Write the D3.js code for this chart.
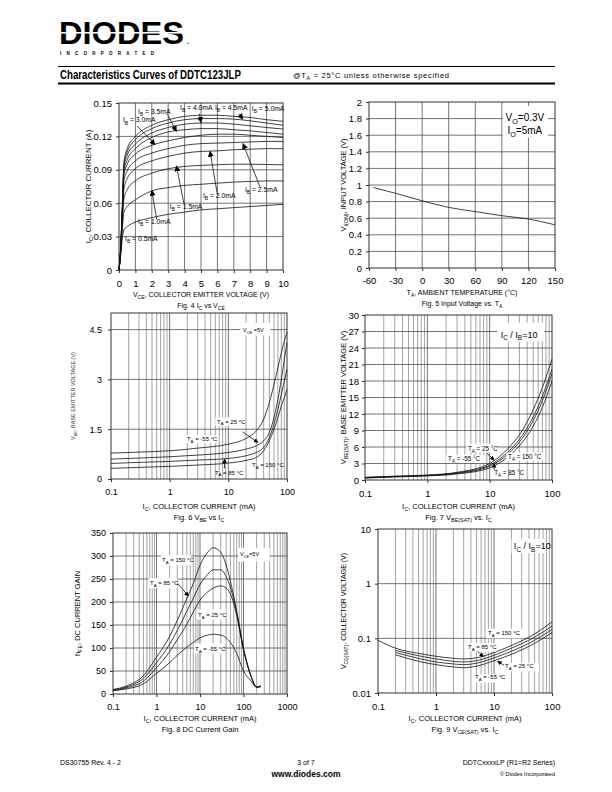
<!DOCTYPE html>
<html>
<head>
<meta charset="utf-8">
<script src="https://cdn.jsdelivr.net/npm/d3@7/dist/d3.min.js"></script>
<style>
  body { margin: 0; background: #fff; }
  svg { display: block; }
</style>
</head>
<body>
<svg id="page" width="612" height="792"></svg>
<script>
// ---------------------------//
//            DATA            //
// ---------------------------//

// Fig. 4  I_C (A) vs V_CE (V), one curve per base current
const vceSteps = [0, 0.1, 0.2, 0.3, 0.5, 1, 2, 3, 4, 5, 6, 7, 8, 9, 10];
const ibNames  = ["0.5", "1.0", "1.5", "2.0", "2.5", "3.0", "3.5", "4.0", "4.5", "5.0"];
const icIb05 = [0, 0.013, 0.028, 0.036, 0.039, 0.043, 0.047, 0.050, 0.052, 0.054, 0.055, 0.056, 0.057, 0.058, 0.059];
const icIb10 = [0, 0.015, 0.036, 0.052, 0.057, 0.063, 0.071, 0.074, 0.076, 0.077, 0.078, 0.079, 0.0795, 0.080, 0.080];
const icIb15 = [0, 0.016, 0.042, 0.064, 0.072, 0.080, 0.087, 0.091, 0.093, 0.094, 0.0945, 0.095, 0.095, 0.0948, 0.0945];
const icIb20 = [0, 0.017, 0.046, 0.073, 0.082, 0.091, 0.098, 0.102, 0.105, 0.1065, 0.107, 0.108, 0.1085, 0.109, 0.109];
const icIb25 = [0, 0.018, 0.049, 0.080, 0.089, 0.098, 0.105, 0.109, 0.112, 0.1135, 0.114, 0.1145, 0.115, 0.1155, 0.1155];
const icIb30 = [0, 0.018, 0.051, 0.085, 0.095, 0.104, 0.112, 0.116, 0.119, 0.121, 0.122, 0.122, 0.121, 0.120, 0.119];
const icIb35 = [0, 0.019, 0.053, 0.089, 0.099, 0.109, 0.119, 0.124, 0.126, 0.127, 0.127, 0.126, 0.125, 0.1235, 0.122];
const icIb40 = [0, 0.019, 0.054, 0.092, 0.103, 0.113, 0.123, 0.128, 0.131, 0.132, 0.132, 0.131, 0.1295, 0.128, 0.1266];
const icIb45 = [0, 0.019, 0.055, 0.094, 0.106, 0.117, 0.127, 0.132, 0.135, 0.136, 0.136, 0.1355, 0.134, 0.132, 0.130];
const icIb50 = [0, 0.020, 0.056, 0.096, 0.109, 0.120, 0.130, 0.135, 0.138, 0.139, 0.139, 0.138, 0.137, 0.135, 0.1335];
const icCurves = [icIb05, icIb10, icIb15, icIb20, icIb25, icIb30, icIb35, icIb40, icIb45, icIb50];
const fig4XTicks = [0, 1, 2, 3, 4, 5, 6, 7, 8, 9, 10];
const fig4YTicks = [0, 0.03, 0.06, 0.09, 0.12, 0.15];

// Fig. 5  V_I(ON) vs T_A
const tempA  = [-55, -30, 0, 30, 60, 90, 120, 150];
const vinOn  = [0.97, 0.90, 0.81, 0.73, 0.68, 0.63, 0.59, 0.52];
const fig5XTicks = [-60, -30, 0, 30, 60, 90, 120, 150];
const fig5YTicks = [0, 0.2, 0.4, 0.6, 0.8, 1, 1.2, 1.4, 1.6, 1.8, 2];

// Fig. 6  V_BE vs I_C (mA)
const icFig6 = [0.1, 0.3, 1, 3, 10, 20, 30, 40, 50, 60, 70, 80, 90, 100];
const vbeM55 = [0.78, 0.81, 0.85, 0.93, 1.05, 1.22, 1.45, 1.8, 2.3, 2.85, 3.35, 3.8, 4.15, 4.42];
const vbe25  = [0.60, 0.63, 0.67, 0.72, 0.80, 0.90, 1.0, 1.15, 1.4, 1.85, 2.4, 3.0, 3.6, 4.1];
const vbe85  = [0.47, 0.50, 0.53, 0.57, 0.62, 0.70, 0.80, 0.95, 1.25, 1.65, 2.1, 2.55, 2.95, 3.3];
const vbe150 = [0.32, 0.35, 0.38, 0.42, 0.48, 0.56, 0.65, 0.85, 1.15, 1.5, 1.85, 2.2, 2.45, 2.7];
const fig6XTicks = [0.1, 1, 10, 100];
const fig6YTicks = [0, 1.5, 3, 4.5];

// Fig. 7  V_BE(SAT) vs I_C (mA)
const icFig7 = [0.1, 0.3, 1, 3, 10, 20, 30, 50, 70, 100];
const vbsM55 = [0.50, 0.70, 0.90, 1.4, 3.0, 5.8, 8.2, 12.8, 16.8, 22.0];
const vbs25  = [0.45, 0.65, 0.85, 1.3, 2.7, 5.2, 7.4, 11.5, 15.2, 20.2];
const vbs85  = [0.40, 0.60, 0.80, 1.2, 2.5, 4.8, 6.9, 10.8, 14.4, 19.4];
const vbs150 = [0.35, 0.55, 0.75, 1.1, 2.2, 4.3, 6.2, 9.8, 13.2, 18.0];
const fig7XTicks = [0.1, 1, 10, 100];
const fig7YTicks = [0, 3, 6, 9, 12, 15, 18, 21, 24, 27, 30];

// Fig. 8  h_FE vs I_C (mA)
const icFig8  = [0.1, 0.2, 0.5, 1, 2, 3, 5, 7, 10, 15, 20, 30, 40, 50, 70, 100, 150, 200, 250];
const hfe150  = [10, 17, 40, 80, 125, 160, 208, 240, 280, 308, 318, 308, 280, 245, 180, 100, 38, 14, 16];
const hfe85   = [9, 15, 34, 68, 108, 138, 180, 208, 238, 260, 270, 270, 255, 232, 175, 98, 38, 15, 17];
const hfe25   = [8, 13, 28, 57, 92, 118, 152, 178, 204, 222, 230, 235, 230, 218, 170, 95, 38, 15, 18];
const hfeM55  = [7, 11, 22, 45, 68, 84, 102, 112, 122, 128, 130, 128, 122, 112, 88, 50, 28, 15, 17];
const fig8XTicks = [0.1, 1, 10, 100, 1000];
const fig8YTicks = [0, 50, 100, 150, 200, 250, 300, 350];

// Fig. 9  V_CE(SAT) vs I_C (mA)
const icFig9Hot = [0.1, 0.2, 0.5, 1, 2, 3, 5, 10, 20, 50, 100];
const vcs150 = [0.092, 0.066, 0.053, 0.047, 0.043, 0.042, 0.044, 0.055, 0.074, 0.12, 0.2];
const icFig9 = [0.2, 0.5, 1, 2, 3, 5, 10, 20, 50, 100];
const vcs85  = [0.060, 0.048, 0.042, 0.038, 0.037, 0.039, 0.049, 0.066, 0.105, 0.167];
const vcs25  = [0.055, 0.043, 0.037, 0.034, 0.033, 0.035, 0.044, 0.058, 0.092, 0.145];
const vcsM55 = [0.050, 0.038, 0.033, 0.030, 0.029, 0.031, 0.039, 0.051, 0.081, 0.127];
const fig9XTicks = [0.1, 1, 10, 100];
const fig9YTicks = [0.01, 0.1, 1, 10];

// ---------------------------//
//          HELPERS           //
// ---------------------------//
const FONT = '"Liberation Sans", Arial, Helvetica, sans-serif';
const svg = d3.select("#page").attr("font-family", FONT);

// text with _{sub} markup
function rich(sel, str, fs) {
    let down = false;
    str.split(/(_\{[^}]*\})/).forEach(p => {
        if (!p) return;
        if (p.startsWith("_{")) {
            sel.append("tspan").attr("font-size", fs * 0.72).attr("dy", fs * 0.3).text(p.slice(2, -1));
            down = true;
        } else {
            const t = sel.append("tspan").text(p);
            if (down) { t.attr("dy", -fs * 0.3); down = false; }
        }
    });
    return sel;
}

function logGrid(domain) {
    const out = [];
    for (let dec = domain[0]; dec < domain[1]; dec *= 10)
        for (let k = 1; k <= 9; k++) out.push(k * dec);
    out.push(domain[1]);
    return out;
}

function panel(o) {
    const [L, R, T, B] = o.box;
    const g = svg.append("g");
    const x = (o.xlog ? d3.scaleLog() : d3.scaleLinear()).domain(o.xd).range([L, R]);
    const y = (o.ylog ? d3.scaleLog() : d3.scaleLinear()).domain(o.yd).range([B, T]);

    g.selectAll("line.vg").data(o.vg).join("line").attr("class", "vg")
        .attr("x1", d => x(d)).attr("x2", d => x(d)).attr("y1", T).attr("y2", B)
        .attr("stroke", d => (o.xlog && Math.abs(Math.log10(d) % 1) > 1e-6) ? "#8c8c8c" : "#505050")
        .attr("stroke-width", 0.8);
    g.selectAll("line.hg").data(o.hg).join("line").attr("class", "hg")
        .attr("y1", d => y(d)).attr("y2", d => y(d)).attr("x1", L).attr("x2", R)
        .attr("stroke", "#505050").attr("stroke-width", 0.8);
    g.append("rect").attr("x", L).attr("y", T).attr("width", R - L).attr("height", B - T)
        .attr("fill", "none").attr("stroke", "#333").attr("stroke-width", 1);

    const ax = g.append("g").attr("transform", `translate(0,${B})`)
        .call(d3.axisBottom(x).tickValues(o.xt).tickFormat(d => d).tickSize(3).tickPadding(o.xpad));
    const ay = g.append("g").attr("transform", `translate(${L},0)`)
        .call(d3.axisLeft(y).tickValues(o.yt).tickFormat(d => d).tickSize(3).tickPadding(o.ypad));
    [ax, ay].forEach(a => {
        a.select(".domain").remove();
        a.attr("font-family", FONT).attr("font-size", o.tfs);
        a.selectAll("line").attr("stroke", "#333");
        a.selectAll("text").attr("fill", "#000");
    });

    rich(g.append("text").attr("x", (L + R) / 2).attr("y", o.xty).attr("text-anchor", "middle")
        .attr("font-size", o.afs), o.xtitle, o.afs);
    rich(g.append("text").attr("x", (L + R) / 2 + (o.capdx || 0)).attr("y", o.xty + 11).attr("text-anchor", "middle")
        .attr("font-size", o.afs), o.caption, o.afs);
    rich(g.append("text").attr("transform", `translate(${o.ytx},${(T + B) / 2}) rotate(-90)`)
        .attr("text-anchor", "middle").attr("font-size", o.yfs).attr("fill", o.ycol || "#000"), o.ytitle, o.yfs);

    const line = d3.line().x(d => x(d[0])).y(d => y(d[1])).curve(d3.curveMonotoneX);
    o.series.forEach(s => {
        g.append("path").attr("d", line(d3.zip(s[0], s[1])))
            .attr("fill", "none").attr("stroke", "#111").attr("stroke-width", 0.8);
    });
    return { g, x, y };
}

function note(p, vx, vy, str, fs) {
    return rich(p.g.append("text").attr("x", p.x(vx)).attr("y", p.y(vy)).attr("font-size", fs), str, fs);
}
function arrow(p, a, b, head) {
    p.g.append("line").attr("x1", p.x(a[0])).attr("y1", p.y(a[1])).attr("x2", p.x(b[0])).attr("y2", p.y(b[1]))
        .attr("stroke", "#111").attr("stroke-width", 0.8).attr("marker-end", `url(#${head || "ah"})`);
}
function whiteBox(p, a, b) {
    const x0 = p.x(a[0]), x1 = p.x(b[0]), y0 = p.y(a[1]), y1 = p.y(b[1]);
    p.g.append("rect").attr("x", Math.min(x0, x1)).attr("y", Math.min(y0, y1))
        .attr("width", Math.abs(x1 - x0)).attr("height", Math.abs(y1 - y0)).attr("fill", "#fff");
}

const defs = svg.append("defs");
[["ah", 6], ["ahs", 4.5]].forEach(([id, s]) => {
    defs.append("marker").attr("id", id).attr("viewBox", "0 0 10 10").attr("refX", 9).attr("refY", 5)
        .attr("markerUnits", "userSpaceOnUse").attr("markerWidth", s).attr("markerHeight", s).attr("orient", "auto")
        .append("path").attr("d", "M0,0L10,5L0,10z").attr("fill", "#000");
});

// ---------------------------//
//           HEADER           //
// ---------------------------//
svg.append("text").attr("x", 59).attr("y", 44).attr("font-size", 32).attr("font-weight", "bold")
    .attr("textLength", 125).attr("lengthAdjust", "spacingAndGlyphs").text("DIODES");
svg.append("rect").attr("x", 58).attr("y", 32).attr("width", 128).attr("height", 1.6).attr("fill", "#fff");
svg.append("text").attr("x", 186).attr("y", 45).attr("font-size", 3.5).text("™");
svg.append("text").attr("x", 60).attr("y", 55).attr("font-size", 4.5).attr("font-weight", "bold")
    .attr("textLength", 94).attr("lengthAdjust", "spacing").text("INCORPORATED");
svg.append("line").attr("x1", 58).attr("x2", 555).attr("y1", 66.5).attr("y2", 66.5).attr("stroke", "#000").attr("stroke-width", 1);
svg.append("line").attr("x1", 58).attr("x2", 555).attr("y1", 83.5).attr("y2", 83.5).attr("stroke", "#000").attr("stroke-width", 2);
svg.append("text").attr("x", 60).attr("y", 79).attr("font-size", 12.5).attr("font-weight", "bold")
    .attr("textLength", 181).attr("lengthAdjust", "spacingAndGlyphs").text("Characteristics Curves of DDTC123JLP");
rich(svg.append("text").attr("x", 293).attr("y", 78).attr("font-size", 7.5).attr("letter-spacing", 0.7),
    "@T_{A} = 25°C unless otherwise specified", 7.5);

// ---------------------------//
//           FIG. 4           //
// ---------------------------//
const p4 = panel({
    box: [119, 283, 103, 270], xd: [0, 10], yd: [0, 0.15],
    vg: fig4XTicks.slice(1, -1), hg: fig4YTicks.slice(1, -1),
    xt: fig4XTicks, yt: fig4YTicks, xpad: 7, ypad: 4, tfs: 9.5,
    xtitle: "V_{CE}, COLLECTOR EMITTER VOLTAGE (V)", xty: 297, afs: 7,
    caption: "Fig. 4 I_{C} vs V_{CE}",
    ytitle: "I_{C}, COLLECTOR CURRENT (A)", ytx: 91, yfs: 8,
    series: icCurves.map(c => [vceSteps, c])
});
const ibLabel = n => `I_{B} = ${n}mA`;
const IBF = 6.8;
note(p4, 1.16, 0.1405, ibLabel(ibNames[6]), IBF);
arrow(p4, [2.95, 0.140], [3.5, 0.1245]);
note(p4, 3.72, 0.1435, ibLabel(ibNames[7]), IBF);
arrow(p4, [4.9, 0.1405], [5.0, 0.1325]);
note(p4, 5.85, 0.1435, ibLabel(ibNames[8]), IBF);
arrow(p4, [7.3, 0.1405], [7.55, 0.1355]);
note(p4, 8.1, 0.1425, ibLabel(ibNames[9]), IBF);
note(p4, 0.24, 0.1325, ibLabel(ibNames[5]), IBF);
arrow(p4, [1.1, 0.1295], [2.2, 0.1125]);
note(p4, 7.68, 0.0705, ibLabel(ibNames[4]), IBF);
arrow(p4, [8.6, 0.0745], [7.56, 0.1135]);
note(p4, 5.12, 0.0650, ibLabel(ibNames[3]), IBF);
arrow(p4, [5.98, 0.0695], [5.55, 0.1065]);
note(p4, 3.1, 0.0552, ibLabel(ibNames[2]), IBF);
arrow(p4, [3.96, 0.0595], [3.5, 0.0935]);
note(p4, 1.16, 0.0415, ibLabel(ibNames[1]), IBF);
arrow(p4, [2.3, 0.0455], [2.0, 0.0715]);
note(p4, 0.37, 0.0262, ibLabel(ibNames[0]), IBF);

// ---------------------------//
//           FIG. 5           //
// ---------------------------//
const p5 = panel({
    box: [369, 555, 102, 268], xd: [-60, 150], yd: [0, 2],
    vg: fig5XTicks.slice(1, -1), hg: fig5YTicks.slice(1, -1),
    xt: fig5XTicks, yt: fig5YTicks, xpad: 6, ypad: 4, tfs: 9.5,
    xtitle: "T_{A}, AMBIENT TEMPERATURE (°C)", xty: 295, afs: 7,
    caption: "Fig. 5   Input Voltage vs. T_{A}",
    ytitle: "V_{I(ON)}, INPUT VOLTAGE (V)", ytx: 346, yfs: 7.5,
    series: [[tempA, vinOn]]
});
whiteBox(p5, [91, 1.95], [142, 1.57]);
rich(p5.g.append("text").attr("x", p5.x(116)).attr("y", p5.y(1.77)).attr("text-anchor", "middle").attr("font-size", 10), "V_{O}=0.3V", 10);
rich(p5.g.append("text").attr("x", p5.x(116)).attr("y", p5.y(1.62)).attr("text-anchor", "middle").attr("font-size", 10), "I_{O}=5mA", 10);

// ---------------------------//
//           FIG. 6           //
// ---------------------------//
const taLabel = t => `T_{A} = ${t} °C`;
const p6 = panel({
    box: [111, 287, 313, 479], xd: [0.1, 100], yd: [0, 5], xlog: true,
    vg: logGrid([0.1, 100]).slice(1, -1), hg: fig6YTicks.slice(1),
    xt: fig6XTicks, yt: fig6YTicks, xpad: 7, ypad: 6, tfs: 9,
    xtitle: "I_{C}, COLLECTOR CURRENT (mA)", xty: 509, afs: 7.5,
    caption: "Fig. 6   V_{BE} vs I_{C}",
    ytitle: "V_{BE}, BASE EMITTER VOLTAGE (V)", ytx: 75, yfs: 5.5, ycol: "#333",
    series: [[icFig6, vbeM55], [icFig6, vbe25], [icFig6, vbe85], [icFig6, vbe150]]
});
whiteBox(p6, [16, 4.7], [52, 4.32]);
rich(p6.g.append("text").attr("x", p6.x(17.8)).attr("y", p6.y(4.43)).attr("font-size", 5.5), "V_{CE} =5V", 5.5);
whiteBox(p6, [6.0, 1.85], [19, 1.6]);
note(p6, 6.4, 1.67, taLabel(25), 6);
arrow(p6, [17.5, 1.42], [32, 1.1], "ahs");
whiteBox(p6, [1.85, 1.32], [6.5, 1.08]);
note(p6, 1.97, 1.15, taLabel(-55), 6);
note(p6, 25.3, 0.37, taLabel(150), 6);
note(p6, 5.9, 0.13, taLabel(85), 6);
arrow(p6, [8.6, 0.32], [8.6, 0.6], "ahs");

// ---------------------------//
//           FIG. 7           //
// ---------------------------//
const p7 = panel({
    box: [365, 552, 315, 480], xd: [0.1, 100], yd: [0, 30], xlog: true,
    vg: logGrid([0.1, 100]).slice(1, -1), hg: fig7YTicks.slice(1, -1),
    xt: fig7XTicks, yt: fig7YTicks, xpad: 7, ypad: 3, tfs: 9.5,
    xtitle: "I_{C}, COLLECTOR CURRENT (mA)", xty: 509, afs: 7.5,
    caption: "Fig. 7   V_{BE(SAT)} vs. I_{C}",
    ytitle: "V_{BE(SAT)}, BASE EMITTER VOLTAGE (V)", ytx: 346, yfs: 7.5,
    series: [[icFig7, vbsM55], [icFig7, vbs25], [icFig7, vbs85], [icFig7, vbs150]]
});
whiteBox(p7, [13.2, 28.6], [75, 25.2]);
rich(p7.g.append("text").attr("x", p7.x(15)).attr("y", p7.y(25.9)).attr("font-size", 9), "I_{C} / I_{B}=10", 9);
whiteBox(p7, [4.2, 6.6], [13, 5.0]);
note(p7, 4.49, 5.3, taLabel(25), 6.3);
arrow(p7, [9.0, 4.9], [11.8, 3.6], "ahs");
whiteBox(p7, [2.0, 4.6], [8.6, 3.1]);
note(p7, 2.15, 3.4, taLabel(-55), 6.3);
whiteBox(p7, [18.5, 5.0], [75, 3.5]);
note(p7, 19.7, 3.8, taLabel(150), 6.3);
note(p7, 11.8, 0.9, taLabel(85), 6.3);
arrow(p7, [11.8, 1.8], [11.8, 3.0], "ahs");

// ---------------------------//
//           FIG. 8           //
// ---------------------------//
const p8 = panel({
    box: [113, 287, 533, 694], xd: [0.1, 1000], yd: [0, 350], xlog: true,
    vg: logGrid([0.1, 1000]).slice(1, -1), hg: fig8YTicks.slice(1, -1),
    xt: fig8XTicks, yt: fig8YTicks, xpad: 7, ypad: 4, tfs: 9,
    xtitle: "I_{C}, COLLECTOR CURRENT (mA)", xty: 721, afs: 7.5,
    caption: "Fig. 8   DC Current Gain",
    ytitle: "h_{FE}, DC CURRENT GAIN", ytx: 80, yfs: 7.5,
    series: [[icFig8, hfe150], [icFig8, hfe85], [icFig8, hfe25], [icFig8, hfeM55]]
});
whiteBox(p8, [75, 318], [400, 288]);
rich(p8.g.append("text").attr("x", p8.x(83)).attr("y", p8.y(300)).attr("font-size", 5.5), "V_{CE}=5V", 5.5);
whiteBox(p8, [1.25, 302], [6.2, 280]);
note(p8, 1.34, 286, taLabel(150), 6);
whiteBox(p8, [0.66, 252], [3.0, 230]);
note(p8, 0.71, 236, taLabel(85), 6);
arrow(p8, [3.1, 240], [5.4, 213], "ahs");
whiteBox(p8, [8.4, 184], [40, 162]);
note(p8, 9.0, 168, taLabel(25), 6);
whiteBox(p8, [7.2, 110], [36, 88]);
note(p8, 7.7, 94, taLabel(-55), 6);

// ---------------------------//
//           FIG. 9           //
// ---------------------------//
const p9 = panel({
    box: [378, 552, 529, 693], xd: [0.1, 100], yd: [0.01, 10], xlog: true, ylog: true,
    vg: logGrid([0.1, 100]).slice(1, -1), hg: [0.1, 1],
    xt: fig9XTicks, yt: fig9YTicks, xpad: 7, ypad: 4, tfs: 9.5,
    xtitle: "I_{C}, COLLECTOR CURRENT (mA)", xty: 721, afs: 7.5,
    caption: "Fig. 9   V_{CE(SAT)} vs. I_{C}",
    ytitle: "V_{CE(SAT)}, COLLECTOR VOLTAGE (V)", ytx: 346, yfs: 7,
    series: [[icFig9Hot, vcs150], [icFig9, vcs85], [icFig9, vcs25], [icFig9, vcsM55]]
});
whiteBox(p9, [20, 6.6], [75, 3.6]);
rich(p9.g.append("text").attr("x", p9.x(22)).attr("y", p9.y(4.3)).attr("font-size", 9), "I_{C} / I_{B}=10", 9);
whiteBox(p9, [7.3, 0.15], [33, 0.1]);
note(p9, 7.9, 0.115, taLabel(150), 6);
whiteBox(p9, [3.3, 0.082], [11, 0.057]);
note(p9, 3.57, 0.063, taLabel(85), 6);
arrow(p9, [5.2, 0.058], [6.6, 0.046], "ahs");
whiteBox(p9, [15, 0.036], [60, 0.025]);
note(p9, 15.5, 0.0285, taLabel(25), 6);
arrow(p9, [15, 0.032], [11.5, 0.038], "ahs");
whiteBox(p9, [4.4, 0.022], [17, 0.0155]);
note(p9, 4.7, 0.0178, taLabel(-55), 6);

// ---------------------------//
//           FOOTER           //
// ---------------------------//
svg.append("text").attr("x", 60).attr("y", 765).attr("font-size", 7).text("DS30755 Rev. 4 - 2");
svg.append("text").attr("x", 306).attr("y", 765).attr("font-size", 7).attr("text-anchor", "middle").text("3 of 7");
svg.append("text").attr("x", 306).attr("y", 777).attr("font-size", 8.5).attr("font-weight", "bold").attr("text-anchor", "middle").text("www.diodes.com");
svg.append("text").attr("x", 555).attr("y", 765).attr("font-size", 7).attr("text-anchor", "end").text("DDTCxxxxLP (R1=R2 Series)");
svg.append("text").attr("x", 555).attr("y", 776).attr("font-size", 5.5).attr("text-anchor", "end").text("© Diodes Incorporated");
</script>
</body>
</html>
